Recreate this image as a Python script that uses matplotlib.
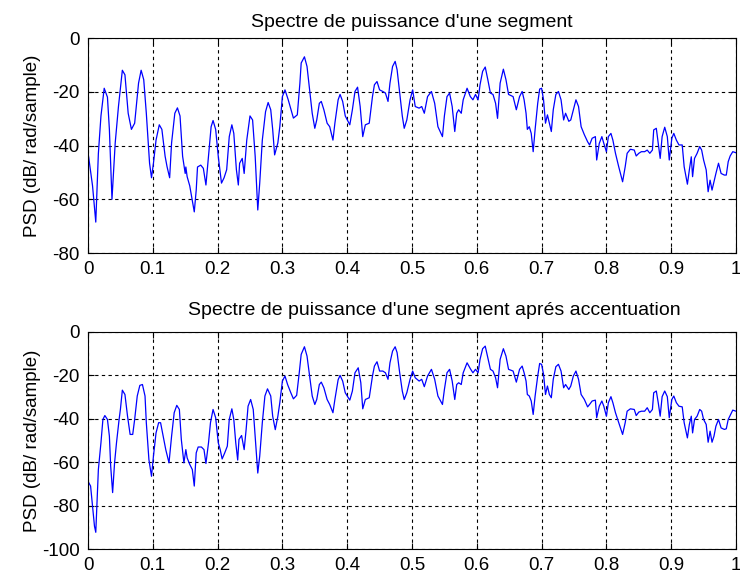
import matplotlib
matplotlib.use("Agg")
import matplotlib.pyplot as plt

plt.rcParams['font.family'] = ['Liberation Sans', 'DejaVu Sans']
plt.rcParams['axes.unicode_minus'] = False

# normalised frequency (x pi rad/sample) and PSD in dB, raw segment
freq_raw = [0, 0.007, 0.012, 0.016, 0.020, 0.025, 0.030, 0.033, 0.037, 0.042, 0.047, 0.053, 0.057, 0.062,
            0.067, 0.072, 0.078, 0.082, 0.086, 0.090, 0.095, 0.098, 0.101, 0.105, 0.110, 0.114, 0.119, 0.122,
            0.126, 0.129, 0.134, 0.138, 0.142, 0.146, 0.150, 0.151, 0.153, 0.157, 0.164, 0.167, 0.169, 0.174,
            0.178, 0.182, 0.186, 0.190, 0.193, 0.197, 0.201, 0.206, 0.210, 0.214, 0.218, 0.222, 0.225, 0.229,
            0.232, 0.234, 0.238, 0.241, 0.245, 0.250, 0.254, 0.258, 0.262, 0.265, 0.269, 0.274, 0.278, 0.282,
            0.285, 0.288, 0.293, 0.296, 0.300, 0.304, 0.309, 0.317, 0.323, 0.327,
            0.329, 0.334, 0.338, 0.342, 0.346, 0.350, 0.353, 0.357, 0.360, 0.364, 0.369, 0.373, 0.378, 0.381,
            0.386, 0.389, 0.393, 0.397, 0.404, 0.408, 0.412, 0.416, 0.420, 0.424, 0.428, 0.434, 0.439, 0.442,
            0.446, 0.450, 0.455, 0.459, 0.463, 0.466, 0.470, 0.474, 0.477, 0.481, 0.485, 0.488, 0.492, 0.497,
            0.501, 0.505, 0.511, 0.515, 0.519, 0.524, 0.530, 0.535, 0.540, 0.547, 0.550, 0.554, 0.558, 0.562,
            0.566, 0.569, 0.572, 0.576, 0.579, 0.585, 0.590, 0.594, 0.598, 0.602, 0.605, 0.609, 0.613, 0.617,
            0.621, 0.625, 0.629, 0.632, 0.636, 0.641, 0.645, 0.649, 0.656, 0.661, 0.666, 0.670,
            0.673, 0.676, 0.678, 0.681, 0.684, 0.687, 0.690, 0.694, 0.697, 0.700, 0.703, 0.706, 0.709, 0.712,
            0.715, 0.718, 0.722, 0.726, 0.730, 0.734, 0.737, 0.742, 0.745, 0.749, 0.753, 0.757, 0.761, 0.766,
            0.771, 0.774, 0.778, 0.783, 0.785, 0.789, 0.793, 0.796, 0.800, 0.803, 0.807, 0.810, 0.814, 0.819,
            0.825, 0.829, 0.832, 0.837, 0.843, 0.846, 0.850, 0.854, 0.859, 0.863, 0.867, 0.871, 0.873, 0.877,
            0.880, 0.883, 0.886, 0.890, 0.894, 0.897, 0.901, 0.904, 0.908, 0.912, 0.917, 0.920, 0.925, 0.928,
            0.931, 0.933, 0.936, 0.940, 0.944, 0.947, 0.950, 0.954, 0.957, 0.960, 0.963, 0.966, 0.969, 0.973,
            0.977, 0.982, 0.985, 0.988, 0.991, 0.995, 1.0]
psd_raw = [-42.5, -55, -68.5, -43, -29, -18.7, -22, -34, -60, -39, -25.5, -12, -13.7, -28,
           -34, -31.7, -16.8, -12, -15.5, -28, -46.6, -52, -46.6, -38, -32.3, -34, -44, -47.9,
           -52, -39, -28, -26, -29, -44, -50.4, -48, -51.6, -55, -64.7, -56.6, -48, -47.3,
           -48.5, -54.7, -44, -33, -30.7, -34, -44, -54, -52, -49, -36.7, -32.3, -35.5, -49,
           -54.7, -46.6, -44.8, -50.4, -38, -29, -30.5, -44, -64, -54, -38, -27.4, -24, -26.7,
           -34, -43.5, -39, -33, -21.8, -19.3, -23, -29.8, -28.6, -16.8,
           -9.3, -7, -10.6, -19.3, -28, -33.6, -30.5, -24.3, -23.6, -26.7, -31.7, -33, -38, -31.7,
           -23, -21, -23.6, -29, -32.3, -26.7, -19.9, -18.3, -25.5, -36.7, -32.3, -31.7, -21.8, -17.4,
           -16.2, -19.3, -19.9, -20.5, -23.6, -16.8, -10.6, -8.7, -11.8, -20.5, -29, -33.6, -30.5, -23,
           -19.3, -25.5, -26.1, -25.5, -28, -21.8, -19.9, -24.3, -33, -36.7, -29, -21.8, -20.5, -25.5,
           -34.8, -28, -26.7, -28, -23, -18.7, -21.8, -23, -21, -23, -17.4, -12.4, -10.8, -15.5,
           -20.5, -21, -24.3, -29.9, -16.8, -11.6, -15.5, -21, -21.8, -26.7, -21.8, -19.9,
           -23, -28, -34, -33, -35.5, -42.3, -34, -24.3, -19, -18.7, -23, -31.7, -28.6, -31.7,
           -34.8, -26.7, -21, -19.9, -23, -30.5, -28, -31, -30.5, -26.7, -23, -25.5, -33, -36,
           -38.6, -39.8, -37.3, -36.7, -45.4, -39.2, -36.7, -39.2, -42.3, -36.7, -35.5, -38, -42.9, -47.9,
           -53.5, -47.9, -42.9, -41.4, -41.7, -43.9, -42.9, -42.3, -42.3, -41.7, -42.9, -41.7, -34.2, -33.6,
           -39.2, -44.8, -36.7, -33.2, -36.7, -45.4, -37.3, -35.5, -38, -39.8, -39.8, -47.9, -54.4, -49.1,
           -44.2, -51.6, -44.8, -42.9, -40.4, -41.7, -45.4, -49.1, -57.2, -52.9, -56.6, -53.5, -50.4, -46.6,
           -50.4, -51, -51, -46, -43.9, -42.3, -42.7]

# same segment after pre-emphasis
freq_acc = [0, 0.004, 0.007, 0.010, 0.012, 0.014, 0.016, 0.020, 0.023, 0.026, 0.030, 0.033, 0.035, 0.038,
            0.041, 0.044, 0.048, 0.050, 0.053, 0.057, 0.061, 0.065, 0.069, 0.072, 0.076, 0.080, 0.084, 0.088,
            0.090, 0.094, 0.098, 0.101, 0.105, 0.109, 0.112, 0.116, 0.120, 0.125, 0.129, 0.133, 0.137, 0.141,
            0.144, 0.148, 0.151, 0.153, 0.157, 0.161, 0.164, 0.167, 0.170, 0.175, 0.179, 0.182, 0.186, 0.189,
            0.193, 0.197, 0.201, 0.204, 0.207, 0.211, 0.215, 0.218, 0.222, 0.225, 0.228, 0.231, 0.233, 0.237,
            0.241, 0.244, 0.247, 0.251, 0.255, 0.258, 0.262, 0.265, 0.269, 0.273, 0.277, 0.282, 0.285, 0.289,
            0.293, 0.296, 0.300, 0.304, 0.308, 0.313, 0.317, 0.322, 0.326,
            0.329, 0.334, 0.338, 0.342, 0.346, 0.350, 0.353, 0.357, 0.360, 0.364, 0.369, 0.373, 0.378, 0.381,
            0.386, 0.389, 0.393, 0.397, 0.404, 0.408, 0.412, 0.417, 0.421, 0.424, 0.428, 0.434, 0.439, 0.442,
            0.446, 0.450, 0.455, 0.459, 0.463, 0.466, 0.470, 0.474, 0.477, 0.481, 0.485, 0.488, 0.492, 0.497,
            0.501, 0.505, 0.511, 0.515, 0.519, 0.524, 0.530, 0.535, 0.540, 0.547, 0.550, 0.554, 0.558, 0.562,
            0.566, 0.569, 0.572, 0.576, 0.579, 0.585, 0.590, 0.594, 0.598, 0.602, 0.605, 0.609, 0.613, 0.617,
            0.621, 0.625, 0.629, 0.632, 0.636, 0.641, 0.645, 0.649, 0.656, 0.661, 0.666, 0.670,
            0.673, 0.676, 0.678, 0.681, 0.684, 0.687, 0.690, 0.694, 0.697, 0.700, 0.703, 0.706, 0.709, 0.712,
            0.715, 0.718, 0.722, 0.726, 0.730, 0.734, 0.737, 0.742, 0.745, 0.749, 0.753, 0.757, 0.761, 0.766,
            0.771, 0.774, 0.778, 0.783, 0.785, 0.789, 0.793, 0.796, 0.800, 0.803, 0.807, 0.810, 0.814, 0.819,
            0.825, 0.829, 0.832, 0.837, 0.843, 0.846, 0.850, 0.854, 0.859, 0.863, 0.867, 0.871, 0.873, 0.877,
            0.880, 0.883, 0.886, 0.890, 0.894, 0.897, 0.901, 0.904, 0.908, 0.912, 0.917, 0.920, 0.925, 0.928,
            0.931, 0.933, 0.936, 0.940, 0.944, 0.947, 0.950, 0.954, 0.957, 0.960, 0.963, 0.966, 0.969, 0.973,
            0.977, 0.982, 0.985, 0.988, 0.991, 0.995, 1.0]
psd_acc = [-68.8, -71, -80.3, -89.5, -92.3, -78, -63.4, -51, -40.3, -38.5, -40.3, -48, -61.8, -74,
           -60.3, -51, -40.3, -35.7, -26.8, -28.8, -38.8, -47.2, -47.2, -40.3, -29.5, -24.6, -24.2, -29.5,
           -41.8, -58.8, -66.5, -57.2, -46.5, -41.8, -41.8, -48, -54.2, -60.3, -48, -37.2, -33.8, -35.7,
           -49.5, -60.3, -54.2, -58, -61, -63.4, -71, -55.7, -53, -53, -54.2, -60.6, -51, -41.8,
           -35.7, -39.5, -51, -54.2, -58.5, -55.7, -52.6, -40.3, -35.4, -40.3, -51, -59, -49.5, -47.7,
           -54.2, -45, -34.2, -31.1, -35.7, -48, -65, -57.2, -41.8, -29.5, -26.2, -29.5, -38.8, -45,
           -38.8, -32.6, -22.6, -20.3, -24.2, -28, -30.8, -29.2, -18.8,
           -10.3, -6.8, -11.1, -20.3, -29.5, -33.4, -31.1, -24.2, -23.1, -25.7, -31.1, -33.4, -37.2, -31.1,
           -22, -20, -22.6, -28, -31.4, -27.2, -18.8, -16.5, -23.4, -35.4, -31.1, -30.3, -20.3, -15.7,
           -13.7, -18, -18, -18.8, -21.8, -14.2, -8.8, -6.8, -9.5, -18.8, -27.2, -31.1, -28, -21.8,
           -18, -21.1, -22.6, -21.8, -25.2, -20.3, -17.2, -21.8, -29.5, -33.4, -26.5, -18.8, -17.2, -22.6,
           -31.1, -24.2, -23.4, -24.2, -18.8, -14.2, -16.9, -18.8, -17.2, -18.8, -12.6, -7.7, -6.5, -11.8,
           -17.2, -18, -21.1, -25.7, -12.6, -7.7, -11.1, -17.2, -18, -23.1, -17.2, -15.7,
           -18.8, -22.6, -28.8, -29.5, -31.8, -38, -29.5, -20.3, -14.5, -14.9, -19.5, -28.8, -24.9, -28.8,
           -30.3, -21.8, -16, -14.9, -18, -25.7, -24.2, -26.5, -24.9, -20.3, -18, -21.8, -28.8, -31.1,
           -34.5, -33.4, -31.8, -31.4, -39.5, -34.2, -31.8, -34.2, -38.8, -32.6, -29.8, -32.6, -37.2, -41.8,
           -47.2, -41.8, -36.5, -35.4, -35.7, -38.5, -36.9, -36.5, -36.5, -34.9, -37.2, -35.7, -28, -27.2,
           -32.6, -38.8, -29.8, -27.2, -29.8, -39.5, -31.1, -29.5, -32.6, -34.2, -34.5, -41.8, -48.8, -42.6,
           -38.8, -46.5, -40.3, -38.8, -35.7, -36.5, -40.3, -42.6, -50.8, -45.7, -50.8, -48, -43.4, -40.3,
           -44.2, -44.9, -44.6, -40.3, -38.5, -36, -36.5]

xticks = [0, 0.1, 0.2, 0.3, 0.4, 0.5, 0.6, 0.7, 0.8, 0.9, 1]
xticklabels = ['0', '0.1', '0.2', '0.3', '0.4', '0.5', '0.6', '0.7', '0.8', '0.9', '1']
titles = ["Spectre de puissance d'une segment",
          "Spectre de puissance d'une segment aprés accentuation"]
ylabel = "PSD (dB/ rad/sample)"

W, H = 740, 577
fig = plt.figure(figsize=(W / 100, H / 100), dpi=100, facecolor='white')

# axes boxes in pixels: left, top, right, bottom
boxes = [(88, 38, 736, 253), (88, 332, 736, 549)]
ylims = [(-80, 0), (-100, 0)]
series = [(freq_raw, psd_raw), (freq_acc, psd_acc)]
title_x = [0.5, 0.535]
title_pad = [8, 12]

for i in range(2):
    l, t, r, b = boxes[i]
    ax = fig.add_axes([l / W, 1 - b / H, (r - l) / W, (b - t) / H])
    x, y = series[i]
    ax.plot(x, y, color='#0000ff', lw=0.9)
    ax.set_xlim(0, 1)
    ax.set_ylim(*ylims[i])
    ax.set_xticks(xticks)
    ax.set_xticklabels(xticklabels)
    ax.set_yticks(range(ylims[i][0], 1, 20))
    ax.tick_params(direction='in', length=4, width=0.8, top=True, right=True,
                   labelsize=13.5, pad=6, colors='black')
    ax.grid(True, color='black', linestyle=(0, (3, 3)), lw=0.8)
    for s in ax.spines.values():
        s.set_linewidth(0.8)
        s.set_color('black')
    ax.set_title(titles[i], fontsize=14, x=title_x[i], pad=title_pad[i])
    fig.text(33 / W, 1 - (t + b) / 2 / H, ylabel, rotation=90, ha='center', va='center',
             fontsize=13.5)

fig.savefig('out.png', dpi=100)
